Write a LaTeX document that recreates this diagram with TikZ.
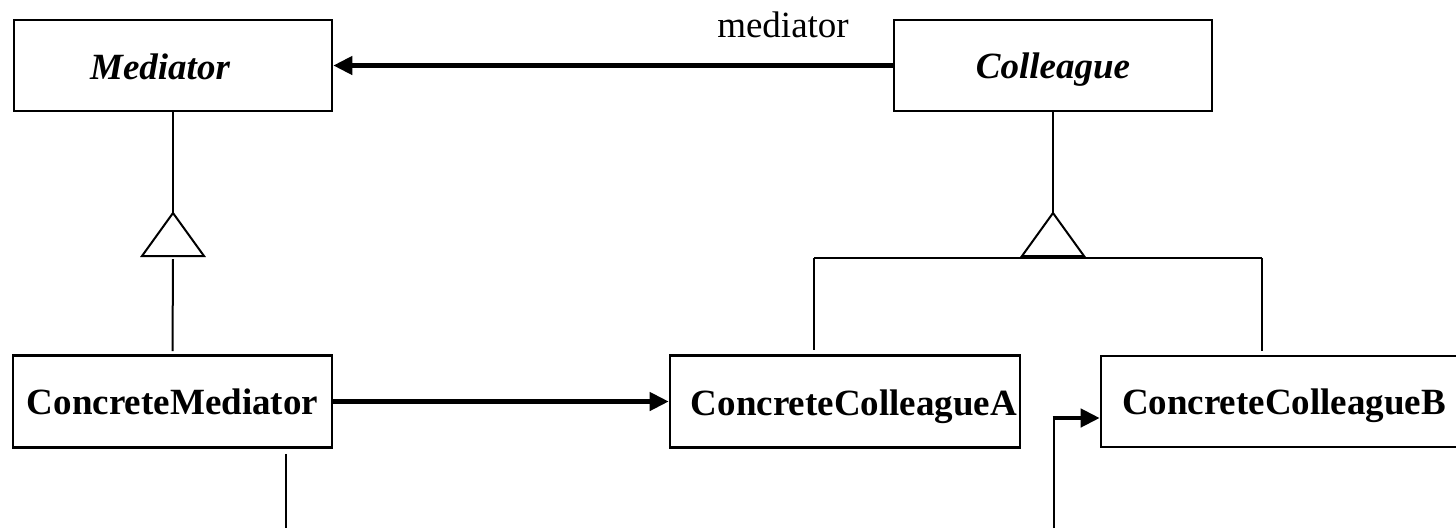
\documentclass[tikz,border=0pt]{standalone}
\usepackage{fontspec}
\setmainfont{Liberation Serif}
\usetikzlibrary{arrows.meta}
\begin{document}
\begin{tikzpicture}[x=1pt,y=-1pt,
  bigfont/.style={font=\fontsize{37}{44}\selectfont\bfseries,text height=25pt,text depth=0pt},
  bigitfont/.style={font=\fontsize{37}{44}\selectfont\bfseries\itshape,text height=25pt,text depth=0pt},
  umlbox/.style={draw,line width=2.6pt,rectangle,inner sep=0pt,bigfont},
  abstr/.style={umlbox,bigitfont},
  thin/.style={line width=2pt},
  assoc/.style={line width=4.3pt,-{Triangle[length=19pt,width=18pt]}}]
\useasboundingbox (0,0) rectangle (1456,528);
% boxes
\node[abstr,minimum width=318pt,minimum height=91pt,label={[bigitfont,xshift=-13pt,yshift=-1pt]center:Mediator}] (med) at (173,65.5) {};
\node[abstr,minimum width=318pt,minimum height=91pt] (col) at (1053,65.5) {Colleague};
\node[umlbox,minimum width=319pt,minimum height=92pt] (cm) at (172.5,401.5) {ConcreteMediator};
\node[umlbox,minimum width=350pt,minimum height=92pt,label={[bigfont,xshift=9pt,yshift=-1pt]center:ConcreteColleagueA}] (cca) at (845,401.5) {};
\node[umlbox,minimum width=366pt,minimum height=91pt] (ccb) at (1284,401.5) {ConcreteColleagueB};
% label
\node[font=\fontsize{37}{44}\selectfont] (lab) at (783,25) {mediator};
% mediator association
\draw[assoc] (col.west) -- (med.east);
% inheritance Mediator
\coordinate (mtA) at (173,213);
\coordinate (mtL) at (142,256);
\coordinate (mtR) at (204,256);
\draw[thin] (med.south) -- (mtA);
\draw[thin,line join=miter] (mtA) -- (mtL) -- (mtR) -- cycle;
\draw[thin] (173,259) -- ([yshift=3pt]cm.north);
% inheritance Colleague
\coordinate (ctA) at (1053,213);
\coordinate (ctL) at (1022,256);
\coordinate (ctR) at (1084,256);
\draw[thin] (col.south) -- (ctA);
\draw[thin,line join=miter] (ctA) -- (ctL) -- (ctR) -- cycle;
\draw[line width=3pt] (ctL) -- (ctR);
\coordinate (barL) at (814,258);
\coordinate (barR) at (1262,258);
\draw[thin] (barL) -- (barR);
\draw[thin] (barL) -- ([yshift=4pt]barL |- cca.north);
\draw[thin] (barR) -- ([yshift=4pt]barR |- ccb.north);
% concrete mediator -> A
\draw[assoc] (cm.east) -- (cca.west);
% free line below ConcreteMediator
\coordinate (cmLow) at (286,528);
\draw[line width=2.6pt] ([yshift=-5pt]cmLow |- cm.south) -- (cmLow);
% line to B
\coordinate (bLow) at (1054,528);
\coordinate (bBend) at (1054,418);
\draw[line width=2.6pt] (bLow) -- (bBend);
\draw[assoc] ([xshift=-1.3pt]bBend) -- (bBend -| ccb.west);
\end{tikzpicture}
\end{document}
